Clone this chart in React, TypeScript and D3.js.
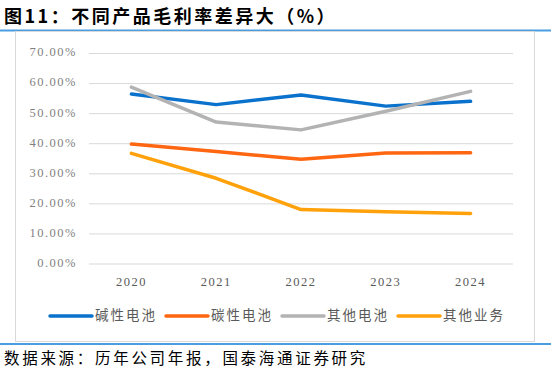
import React from 'react';
import * as d3 from 'd3';

// 数据
const years = ['2020', '2021', '2022', '2023', '2024'];
const alkaline = [56.5, 53.0, 56.2, 52.5, 54.1];
const carbon = [39.9, 37.4, 34.8, 36.9, 37.0];
const otherBattery = [58.8, 47.2, 44.6, 50.8, 57.4];
const otherBusiness = [36.8, 28.5, 18.1, 17.4, 16.8];
const yTicks = [0, 10, 20, 30, 40, 50, 60, 70];

const seriesNames = ['碱性电池', '碳性电池', '其他电池', '其他业务'];
const seriesColors = ['#0a72cc', '#ff6611', '#b3b3b3', '#ffa10a'];
const seriesData = [alkaline, carbon, otherBattery, otherBusiness];

const W = 551;
const H = 371;
const plot = { left: 89, right: 513, top: 53.5, bottom: 264 };

const labelFont = '"Liberation Serif", serif';
const cjkFont = '"Noto Sans CJK SC", sans-serif';

const App: React.FC = () => {
  const x = d3.scaleBand<string>().domain(years).range([plot.left, plot.right]);
  const y = d3.scaleLinear().domain([0, 70]).range([plot.bottom, plot.top]);

  const line = d3
    .line<number>()
    .x((_, i) => (x(years[i]) ?? 0) + x.bandwidth() / 2)
    .y((d) => y(d));

  // 图例位置
  const legendX = [50, 166, 282, 398];
  const legendY = 316;

  return (
    <svg
      width={W}
      height={H}
      viewBox={`0 0 ${W} ${H}`}
      style={{ position: 'absolute', left: 0, top: 0, background: '#fff' }}
    >
      {/* 标题 */}
      <text x={4} y={23} fontFamily={cjkFont} fontSize={18} fontWeight="bold" letterSpacing={2.5} fill="#000">
        图11：不同产品毛利率差异大（%）
      </text>
      <line x1={0} x2={W} y1={30.5} y2={30.5} stroke="#4a9de0" strokeWidth={2} />

      {/* 图表边框 */}
      <rect x={15.5} y={31.5} width={519} height={310} fill="none" stroke="#d9d9d9" strokeWidth={1} />

      {/* 网格线 + Y轴标签 */}
      {yTicks.map((t) => (
        <g key={t}>
          <line x1={plot.left} x2={plot.right} y1={y(t)} y2={y(t)} stroke="#d9d9d9" strokeWidth={1} />
          <text
            x={77}
            y={y(t)}
            textAnchor="end"
            dominantBaseline="middle"
            fontFamily={labelFont}
            fontSize={12.5}
            letterSpacing={1.5}
            fill="#7f7f7f"
          >
            {`${t.toFixed(2)}%`}
          </text>
        </g>
      ))}

      {/* X轴标签 */}
      {years.map((yr) => (
        <text
          key={yr}
          x={(x(yr) ?? 0) + x.bandwidth() / 2}
          y={286}
          textAnchor="middle"
          fontFamily={labelFont}
          fontSize={12.5}
          letterSpacing={1.5}
          fill="#595959"
        >
          {yr}
        </text>
      ))}

      {/* 折线 */}
      {seriesData.map((data, i) => (
        <path
          key={seriesNames[i]}
          d={line(data) ?? ''}
          fill="none"
          stroke={seriesColors[i]}
          strokeWidth={3.5}
          strokeLinecap="round"
          strokeLinejoin="round"
        />
      ))}

      {/* 图例 */}
      {seriesNames.map((name, i) => (
        <g key={name}>
          <line
            x1={legendX[i]}
            x2={legendX[i] + 42}
            y1={legendY}
            y2={legendY}
            stroke={seriesColors[i]}
            strokeWidth={3.5}
            strokeLinecap="round"
          />
          <text
            x={legendX[i] + 45}
            y={legendY}
            dominantBaseline="middle"
            fontFamily={cjkFont}
            fontSize={13.5}
            letterSpacing={2}
            fill="#595959"
          >
            {name}
          </text>
        </g>
      ))}

      {/* 来源 */}
      <line x1={0} x2={W} y1={344} y2={344} stroke="#4a9de0" strokeWidth={2} />
      <text x={4} y={364} fontFamily={cjkFont} fontSize={15.5} letterSpacing={2.7} fill="#000">
        数据来源：历年公司年报，国泰海通证券研究
      </text>
    </svg>
  );
};

export default App;
